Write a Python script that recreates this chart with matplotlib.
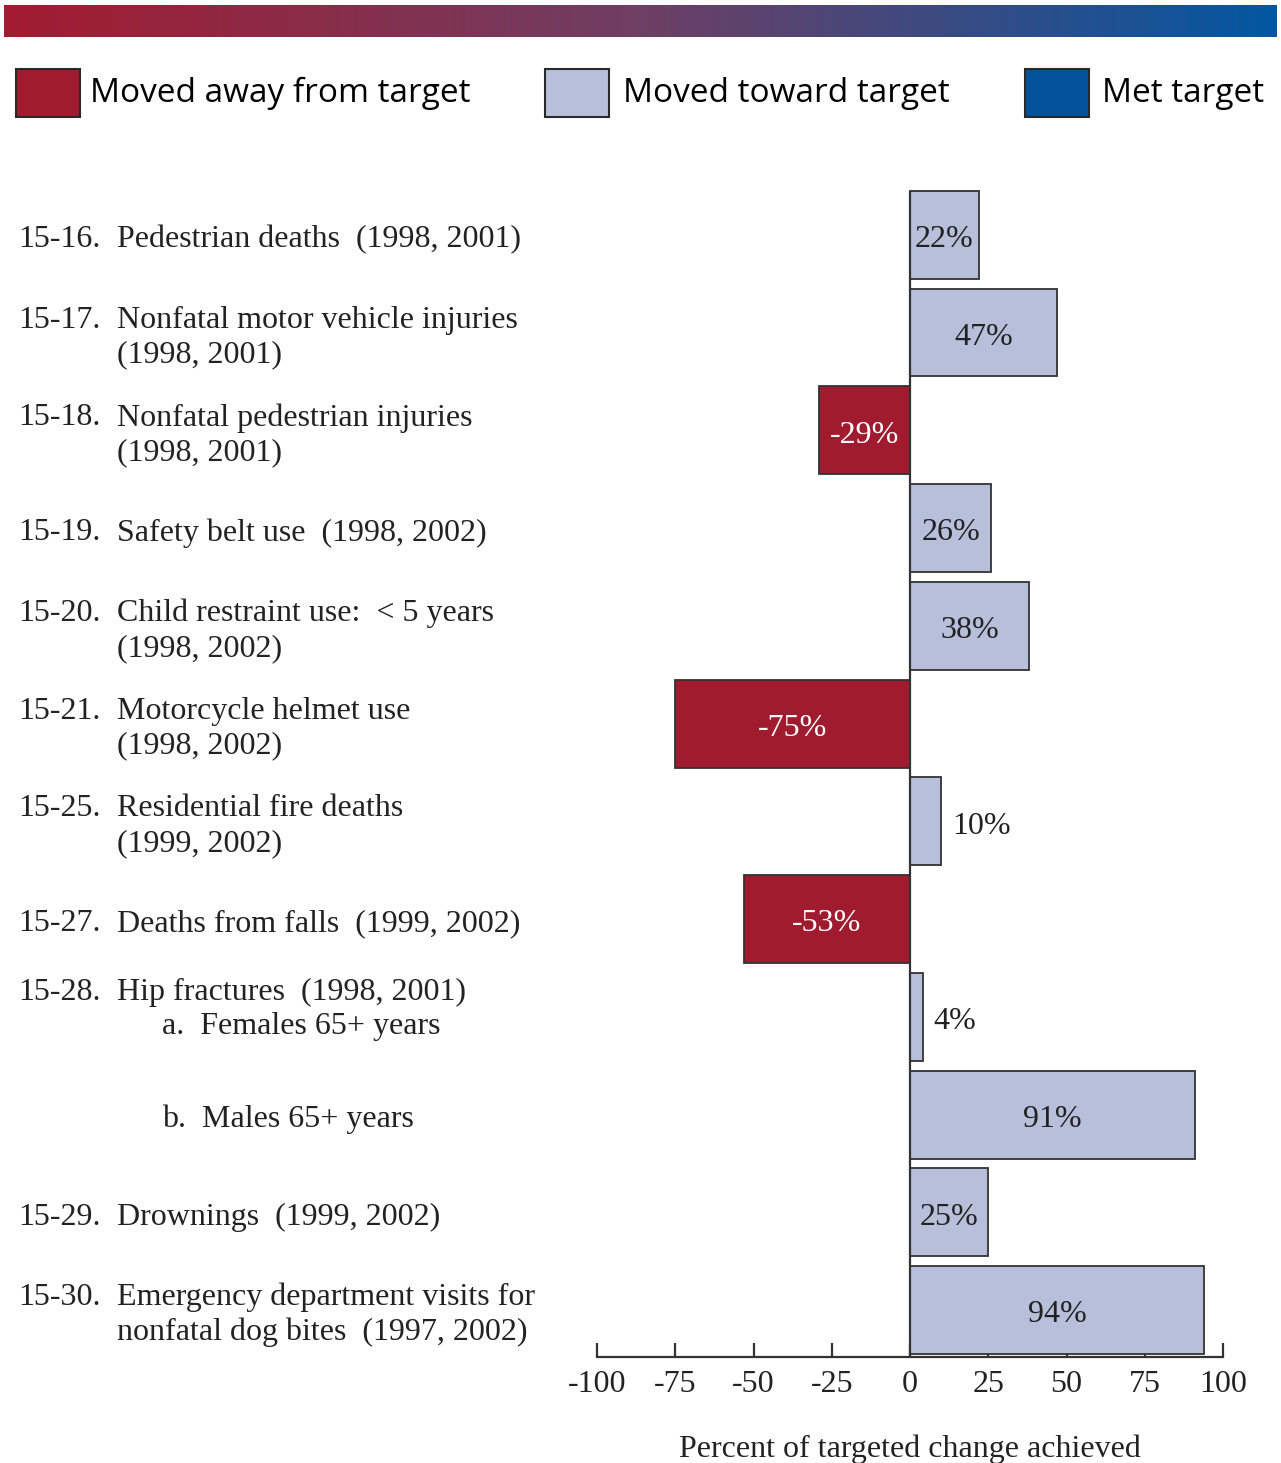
import numpy as np
import matplotlib.pyplot as plt
from matplotlib.patches import Rectangle
from matplotlib.colors import LinearSegmentedColormap
from matplotlib.transforms import blended_transform_factory

codes = ['15-16.', '15-17.', '15-18.', '15-19.', '15-20.', '15-21.',
         '15-25.', '15-27.', '15-28.', '', '15-29.', '15-30.']
descs = ['Pedestrian deaths  (1998, 2001)',
         'Nonfatal motor vehicle injuries\n(1998, 2001)',
         'Nonfatal pedestrian injuries\n(1998, 2001)',
         'Safety belt use  (1998, 2002)',
         'Child restraint use:  < 5 years\n(1998, 2002)',
         'Motorcycle helmet use\n(1998, 2002)',
         'Residential fire deaths\n(1999, 2002)',
         'Deaths from falls  (1999, 2002)',
         'Hip fractures  (1998, 2001)',
         '',
         'Drownings  (1999, 2002)',
         'Emergency department visits for\nnonfatal dog bites  (1997, 2002)']
subs = ['', '', '', '', '', '', '', '', 'a.  Females 65+ years', 'b.  Males 65+ years', '', '']
values = [22, 47, -29, 26, 38, -75, 10, -53, 4, 91, 25, 94]
ticks = [-100, -75, -50, -25, 0, 25, 50, 75, 100]
tick_labels = ['-100', '-75', '-50', '-25', '0', '25', '50', '75', '100']
legend_labels = ['Moved away from target', 'Moved toward target', 'Met target']
legend_colors = ['#A01B2E', '#B7BFDA', '#03529B']

W, H = 1281, 1463
fig = plt.figure(figsize=(W / 100, H / 100), dpi=100)
serif = 'Liberation Serif'
fs = 23
ink = '#222222'
dy = 0.05  # text sits a touch below bar centre

# gradient strip on top
cmap = LinearSegmentedColormap.from_list('strip', ['#A31B30', '#6E3F64', '#0357A2'])
gax = fig.add_axes([4 / W, 1 - 37 / H, 1273 / W, 32 / H])
gax.imshow(np.linspace(0, 1, 512)[None, :], aspect='auto', cmap=cmap)
gax.axis('off')

# legend
for lx, tx, lab, col in zip([16, 545, 1025], [90, 623, 1102], legend_labels, legend_colors):
    fig.add_artist(Rectangle((lx / W, 1 - 117 / H), 64 / W, 48 / H, transform=fig.transFigure,
                             facecolor=col, edgecolor='#2a2a2a', lw=1.5))
    fig.text(tx / W, 1 - 93 / H, lab, family='Open Sans', fontsize=24, va='center', ha='left')

ax = fig.add_axes([597 / W, 1 - 1357 / H, 626 / W, 1177 / H])
y = np.arange(len(values))
colors = [legend_colors[0] if v < 0 else legend_colors[1] for v in values]
ax.barh(y, values, height=0.9, color=colors, edgecolor='#333333', linewidth=1.3, zorder=2)
ax.vlines(0, -0.45, 11.48, color='#333333', lw=1.6, zorder=3)
ax.set_xlim(-100, 100)
ax.set_ylim(11.48, -0.56)

for yi, v in zip(y, values):
    txt = f'{v}%'
    if abs(v) < 15:
        ax.annotate(txt, (v, yi + dy), xytext=(8, 0), textcoords='offset points',
                    ha='left', va='center', family=serif, fontsize=fs, color=ink)
    else:
        ax.text(v / 2, yi + dy, txt, ha='center', va='center', family=serif, fontsize=fs,
                color='white' if v < 0 else ink)

tr = blended_transform_factory(fig.transFigure, ax.transData)
for yi, c, d, s in zip(y, codes, descs, subs):
    off = -0.3 if s and c else 0
    if c:
        nl = d.count('\n')
        ax.text(18 / W, yi + off + dy, c + '\n ' * nl, transform=tr, ha='left', va='center',
                family=serif, fontsize=fs, color=ink, linespacing=1.26)
        ax.text(117 / W, yi + off + dy, d, transform=tr, ha='left', va='center',
                family=serif, fontsize=fs, color=ink, linespacing=1.26)
    if s:
        ax.text(162 / W, yi + (0.05 if c else 0) + dy, s, transform=tr, ha='left', va='center',
                family=serif, fontsize=fs, color=ink)

for side in ['left', 'right', 'top']:
    ax.spines[side].set_visible(False)
ax.spines['bottom'].set_linewidth(1.6)
ax.spines['bottom'].set_color('#333333')
ax.set_yticks([])
ax.set_xticks(ticks)
ax.set_xticklabels(tick_labels, family=serif, fontsize=fs, color=ink)
ax.tick_params(axis='x', direction='in', length=10, width=1.6, color='#333333', pad=9)
ax.set_xlabel('Percent of targeted change achieved', family=serif, fontsize=fs,
              color=ink, labelpad=26)

fig.savefig('out.png', dpi=100)
